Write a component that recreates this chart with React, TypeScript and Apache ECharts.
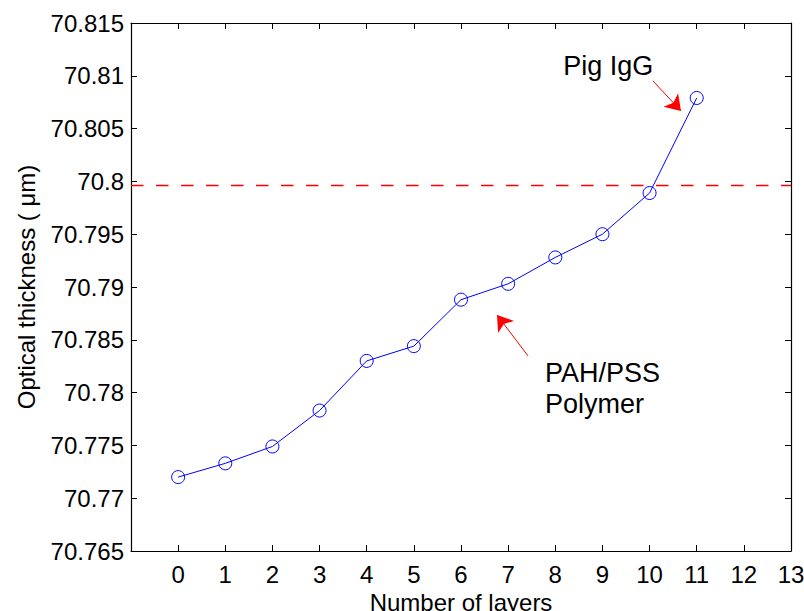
import React, { useEffect, useRef } from "react";
import * as echarts from "echarts";

// ---- data ----
const layers = [0, 1, 2, 3, 4, 5, 6, 7, 8, 9, 10, 11];
const thickness = [
  70.772, 70.7733, 70.7749, 70.7783, 70.783, 70.7844, 70.7888, 70.7903,
  70.7928, 70.795, 70.7989, 70.8079,
];
const thresholdValue = 70.7996;
const xRange = [-1, 13];
const yRange = [70.765, 70.815];
const yStep = 0.005;

// annotations (data coordinates)
const annotationTexts = ["Pig IgG", "PAH/PSS\nPolymer"];
const annotationAnchors = [
  [8.17, 70.81094],
  [7.782, 70.78043],
];
const arrowStarts = [
  [10.073, 70.80951],
  [7.422, 70.78347],
];
const arrowEnds = [
  [10.667, 70.80667],
  [6.764, 70.78735],
];

const FONT = "'Liberation Sans', Arial, Helvetica, sans-serif";

export default function App() {
  const ref = useRef<HTMLDivElement>(null);

  useEffect(() => {
    if (!ref.current) return;
    const chart = echarts.init(ref.current, null, { renderer: "svg" });

    const axisLine = {
      show: true,
      onZero: false,
      lineStyle: { color: "#000", width: 1.2 },
    };
    const axisTick = {
      show: true,
      inside: true,
      length: 6,
      lineStyle: { color: "#000", width: 1 },
    };

    chart.setOption({
      animation: false,
      backgroundColor: "#fff",
      grid: {
        left: 131,
        right: 13,
        top: 23,
        bottom: 60,
        containLabel: false,
        outerBoundsMode: "none",
      },
      xAxis: [
        {
          type: "value",
          min: xRange[0],
          max: xRange[1],
          interval: 1,
          position: "bottom",
          name: "Number of layers",
          nameLocation: "middle",
          nameGap: 35,
          nameTextStyle: { fontSize: 24, color: "#000", fontFamily: FONT },
          axisLine,
          axisTick,
          axisLabel: {
            fontSize: 24,
            color: "#000",
            fontFamily: FONT,
            margin: 11,
            showMinLabel: true,
            showMaxLabel: true,
            formatter: (v: number) => (v < 0 ? "" : String(v)),
          },
          splitLine: { show: false },
        },
        {
          type: "value",
          min: xRange[0],
          max: xRange[1],
          interval: 1,
          position: "top",
          axisLine,
          axisTick,
          axisLabel: { show: false },
          splitLine: { show: false },
        },
      ],
      yAxis: [
        {
          type: "value",
          min: yRange[0],
          max: yRange[1],
          interval: yStep,
          position: "left",
          name: "Optical thickness ( μm)",
          nameLocation: "middle",
          nameGap: 93,
          nameTextStyle: { fontSize: 24, color: "#000", fontFamily: FONT },
          axisLine,
          axisTick,
          axisLabel: {
            fontSize: 24,
            color: "#000",
            fontFamily: FONT,
            margin: 7,
            showMinLabel: true,
            showMaxLabel: true,
          },
          splitLine: { show: false },
        },
        {
          type: "value",
          min: yRange[0],
          max: yRange[1],
          interval: yStep,
          position: "right",
          axisLine,
          axisTick,
          axisLabel: { show: false },
          splitLine: { show: false },
        },
      ],
      series: [
        {
          type: "line",
          xAxisIndex: 0,
          yAxisIndex: 0,
          data: [
            [xRange[0], thresholdValue],
            [xRange[1], thresholdValue],
          ],
          symbol: "none",
          silent: true,
          color: "#ff0000",
          lineStyle: { color: "#ff0000", width: 1.5, type: [12.5, 12.5], opacity: 1 },
          markLine: {
            silent: true,
            symbol: ["none", "arrow"],
            symbolSize: 15,
            label: { show: false },
            itemStyle: { color: "#ff0000" },
            lineStyle: { color: "#ff0000", width: 1, type: "solid", opacity: 1 },
            emphasis: { disabled: true },
            data: arrowStarts.map((s, i) => [
              { coord: s },
              { coord: arrowEnds[i] },
            ]),
          },
        },
        {
          type: "line",
          xAxisIndex: 0,
          yAxisIndex: 0,
          data: layers.map((x, i) => [x, thickness[i]]),
          symbol: "circle",
          symbolSize: 13,
          showAllSymbol: true,
          silent: true,
          lineStyle: { color: "#0000ff", width: 1 },
          itemStyle: {
            color: "rgba(0,0,0,0)",
            borderColor: "#0000ff",
            borderWidth: 1,
          },
        },
      ],
    });

    const graphics = annotationTexts.map((t, i) => {
      const p = chart.convertToPixel(
        { xAxisIndex: 0, yAxisIndex: 0 },
        annotationAnchors[i]
      ) as number[];
      return {
        type: "text",
        x: p[0],
        y: p[1],
        silent: true,
        style: {
          text: t,
          fill: "#000",
          fontSize: 27,
          fontFamily: FONT,
          lineHeight: 31,
          textAlign: "left",
          textVerticalAlign: "middle",
          align: "left",
          verticalAlign: "middle",
        },
      };
    });
    chart.setOption({ graphic: graphics });

    return () => chart.dispose();
  }, []);

  return (
    <div
      ref={ref}
      style={{
        position: "fixed",
        left: 0,
        top: 0,
        width: 804,
        height: 611,
        background: "#fff",
      }}
    />
  );
}
